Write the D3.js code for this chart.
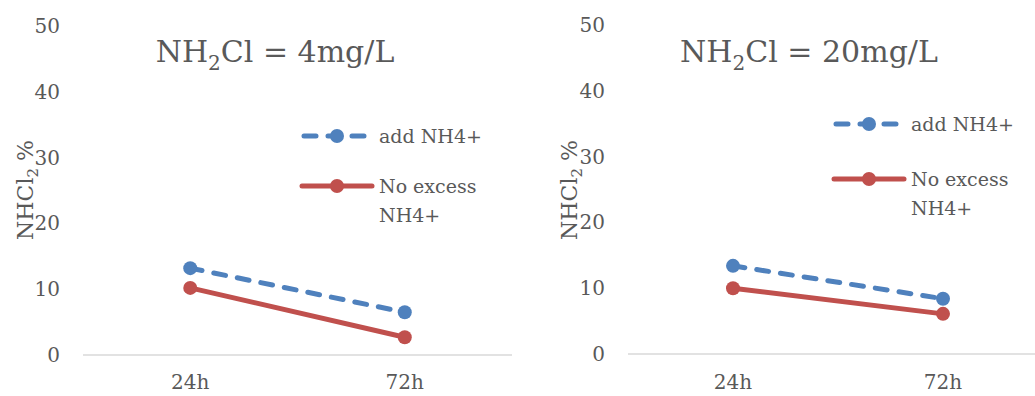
<!DOCTYPE html>
<html>
<head>
<meta charset="utf-8">
<script src="https://cdn.jsdelivr.net/npm/d3@7"></script>
<style>
  body { margin: 0; background: #fff; }
  svg text { font-family: "DejaVu Serif", serif; fill: #595959; }
</style>
</head>
<body>
<div id="chart"></div>
<script>
var categories = ["24h", "72h"]
var yTicks = [0, 10, 20, 30, 40, 50]
var seriesNames = ["add NH4+", "No excess NH4+"]
var panelTitles = ["4mg/L", "20mg/L"]

// NHCl2 % values
var addNH4_4 = [13.2, 6.5]
var noExcess_4 = [10.2, 2.7]
var addNH4_20 = [13.4, 8.4]
var noExcess_20 = [10.0, 6.1]

var blue = "#4F81BD", red = "#C0504D"

var svg = d3.select("#chart").append("svg").attr("width", 1035).attr("height", 396)

function panel(cfg, addVals, noVals, titleConc) {
    var g = svg.append("g")
    var x = d3.scalePoint().domain(categories).range([cfg.x0, cfg.x1]).padding(0.5)
    var y = d3.scaleLinear().domain([0, 50]).range([cfg.yBottom, cfg.yTop])

    // axis line
    g.append("line").attr("x1", cfg.x0).attr("x2", cfg.x1)
        .attr("y1", y(0)).attr("y2", y(0))
        .attr("stroke", "#d9d9d9").attr("stroke-width", 1.5)

    g.selectAll(".ytick").data(yTicks).enter().append("text")
        .attr("x", cfg.tickX).attr("y", function(d){ return y(d) })
        .attr("dy", "0.35em").attr("text-anchor", "end")
        .attr("font-size", "20px").text(function(d){ return d })

    g.selectAll(".xtick").data(categories).enter().append("text")
        .attr("x", function(d){ return x(d) }).attr("y", 389)
        .attr("text-anchor", "middle").attr("font-size", "20px")
        .text(function(d){ return d })

    // title
    var t = g.append("text").attr("x", cfg.titleX).attr("y", 62)
        .attr("text-anchor", "middle").attr("font-size", "30px")
    t.append("tspan").text("NH")
    t.append("tspan").attr("font-size", "20px").attr("dy", 8).text("2")
    t.append("tspan").attr("dy", -8).text("Cl = " + titleConc)

    // y title
    var yt = g.append("text").attr("transform", "translate(" + cfg.yTitleX + "," + 190 + ") rotate(-90)")
        .attr("text-anchor", "middle").attr("font-size", "22px")
    yt.append("tspan").text("NHCl")
    yt.append("tspan").attr("font-size", "15px").attr("dy", 5).text("2")
    yt.append("tspan").attr("dy", -5).text(" %")

    var line = d3.line().x(function(d, i){ return x(categories[i]) }).y(function(d){ return y(d) })

    var series = [
        {vals: addVals, color: blue, dash: "12,12"},
        {vals: noVals, color: red, dash: null}
    ]
    series.forEach(function(s) {
        g.append("path").datum(s.vals).attr("d", line)
            .attr("fill", "none").attr("stroke", s.color).attr("stroke-width", 5)
            .attr("stroke-linecap", "round")
            .attr("stroke-dasharray", s.dash)
        g.selectAll(null).data(s.vals).enter().append("circle")
            .attr("cx", function(d, i){ return x(categories[i]) })
            .attr("cy", function(d){ return y(d) })
            .attr("r", 7).attr("fill", s.color)
    })

    // legend
    var lg = g.append("g").attr("transform", "translate(" + cfg.legX + "," + cfg.legY + ")")
    lg.append("line").attr("x1", 0).attr("x2", 65).attr("y1", 0).attr("y2", 0)
        .attr("stroke", blue).attr("stroke-width", 5).attr("stroke-dasharray", "12,12")
        .attr("stroke-linecap", "round").attr("transform", "translate(2,0)")
    lg.append("circle").attr("cx", 35).attr("cy", 0).attr("r", 7).attr("fill", blue)
    lg.append("text").attr("x", 77).attr("y", 0).attr("dy", "0.35em").attr("font-size", "19px").text(seriesNames[0])

    lg.append("line").attr("x1", 0).attr("x2", 70).attr("y1", cfg.legGap).attr("y2", cfg.legGap)
        .attr("stroke", red).attr("stroke-width", 5).attr("stroke-linecap", "round")
    lg.append("circle").attr("cx", 35).attr("cy", cfg.legGap).attr("r", 7).attr("fill", red)
    lg.append("text").attr("x", 77).attr("y", cfg.legGap).attr("dy", "0.35em").attr("font-size", "19px").text("No excess")
    lg.append("text").attr("x", 77).attr("y", cfg.legGap + 29).attr("dy", "0.35em").attr("font-size", "19px").text("NH4+")
}

panel({x0: 83, x1: 512, yTop: 26, yBottom: 355, tickX: 60, titleX: 275, yTitleX: 33, legX: 302, legY: 136, legGap: 50},
      addNH4_4, noExcess_4, panelTitles[0])
panel({x0: 628, x1: 1048, yTop: 25, yBottom: 354, tickX: 605, titleX: 809, yTitleX: 577, legX: 834, legY: 124, legGap: 55},
      addNH4_20, noExcess_20, panelTitles[1])
</script>
</body>
</html>
